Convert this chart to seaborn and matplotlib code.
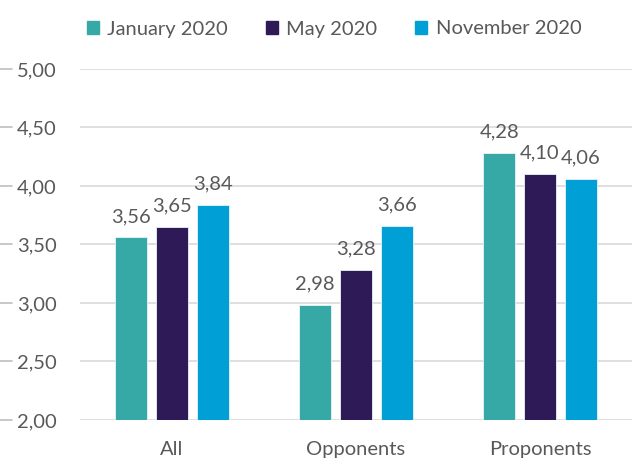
import matplotlib
matplotlib.use("Agg")
import matplotlib.pyplot as plt
import matplotlib.transforms as mtransforms
import seaborn as sns
import pandas as pd

categories = ["All", "Opponents", "Proponents"]
series_names = ["January 2020", "May 2020", "November 2020"]
jan_2020 = [3.56, 2.98, 4.28]
may_2020 = [3.65, 3.28, 4.10]
nov_2020 = [3.84, 3.66, 4.06]
y_ticks = [2.0, 2.5, 3.0, 3.5, 4.0, 4.5, 5.0]

colors = ["#36A9A7", "#2E1A57", "#00A0D6"]
text_gray = "#595959"

rows = []
for name, vals in zip(series_names, [jan_2020, may_2020, nov_2020]):
    for c, v in zip(categories, vals):
        rows.append({"group": c, "period": name, "value": v})
df = pd.DataFrame(rows)

sns.set_theme(style="white")
plt.rcParams["font.family"] = ["Lato", "DejaVu Sans"]

fs = 14.5
fig = plt.figure(figsize=(6.32, 4.61), dpi=100)
ax = fig.add_axes([80 / 632, 41 / 461, 1 - 80 / 632, (420 - 69) / 461])

sns.barplot(data=df, x="group", y="value", hue="period", order=categories,
            hue_order=series_names, palette=colors, saturation=1, width=0.665, gap=0.21,
            ax=ax, edgecolor="#E8F4F8", linewidth=0.6, legend=True, errorbar=None)

ax.set_ylim(2, 5)
ax.set_xlim(-0.5, 2.5)
ax.set_yticks(y_ticks)
ax.set_yticklabels([f"{t:.2f}".replace(".", ",") for t in y_ticks])
ax.yaxis.grid(True, color="#D9D9D9", linewidth=1.2)
ax.set_axisbelow(True)
for s in ax.spines.values():
    s.set_visible(False)
ax.set_xlabel("")
ax.set_ylabel("")
ax.tick_params(axis="y", length=0, pad=17, labelsize=fs, labelcolor=text_gray)
ax.tick_params(axis="x", length=0, pad=15, labelsize=fs, labelcolor=text_gray)

# small dashes left of y tick labels
trans = mtransforms.blended_transform_factory(fig.transFigure, ax.transData)
for t in y_ticks:
    ax.plot([0, 12 / 632], [t, t], color="#BFBFBF", linewidth=1.2,
            transform=trans, clip_on=False)

for cont in ax.containers:
    ax.bar_label(cont, labels=[f"{v:.2f}".replace(".", ",") for v in cont.datavalues],
                 padding=9, fontsize=fs, color=text_gray)

ax.legend_.remove()
handles = [plt.Rectangle((0, 0), 1, 1, color=c) for c in colors]
fig.legend(handles, series_names, loc="center", bbox_to_anchor=(334 / 632, 1 - 29 / 461),
           ncol=3, frameon=False, fontsize=fs, labelcolor=text_gray,
           handlelength=0.6, handleheight=0.6, handletextpad=0.4, columnspacing=1.9)

fig.savefig("out.png", dpi=100)
